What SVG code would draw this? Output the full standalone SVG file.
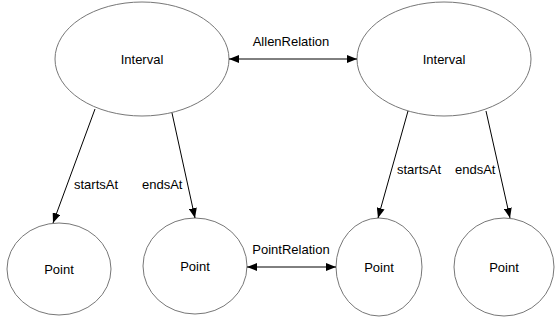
<svg xmlns="http://www.w3.org/2000/svg" width="555" height="325" viewBox="0 0 555 325">
<defs>
<marker id="ah" viewBox="0 0 10 8" refX="10" refY="4" markerWidth="10" markerHeight="8" markerUnits="userSpaceOnUse" orient="auto-start-reverse">
<path d="M0,0 L10,4 L0,8 z" fill="#000"/>
</marker>
<style>
.n{fill:#fff;stroke:#777;stroke-width:1}
.t{font-family:"Liberation Sans",Arial,sans-serif;font-size:13px;fill:#000}
.c{text-anchor:middle}
.e{stroke:#000;stroke-width:1;fill:none}
</style>
</defs>
<rect width="555" height="325" fill="#fff"/>
<g id="interval1"><ellipse class="n" cx="142" cy="59" rx="87" ry="57"/><text class="t c" x="142" y="64">Interval</text></g>
<g id="interval2"><ellipse class="n" cx="444" cy="59" rx="87" ry="57"/><text class="t c" x="444" y="64">Interval</text></g>
<g id="point1"><ellipse class="n" cx="59" cy="269" rx="52" ry="46"/><text class="t c" x="59" y="274">Point</text></g>
<g id="point2"><ellipse class="n" cx="195" cy="266" rx="52" ry="48"/><text class="t c" x="195" y="271">Point</text></g>
<g id="point3"><ellipse class="n" cx="379" cy="267" rx="43" ry="49"/><text class="t c" x="379" y="272">Point</text></g>
<g id="point4"><ellipse class="n" cx="504" cy="267" rx="50" ry="49"/><text class="t c" x="504" y="272">Point</text></g>
<g id="connectors">
<line class="e" x1="229" y1="59" x2="357" y2="59" marker-start="url(#ah)" marker-end="url(#ah)"/>
<text class="t c" x="291" y="46">AllenRelation</text>
<line class="e" x1="247" y1="267" x2="336" y2="267" marker-start="url(#ah)" marker-end="url(#ah)"/>
<text class="t c" x="291" y="254">PointRelation</text>
<line class="e" x1="95" y1="109" x2="53" y2="223" marker-end="url(#ah)"/>
<text class="t" x="74" y="189">startsAt</text>
<line class="e" x1="172" y1="113" x2="195" y2="218" marker-end="url(#ah)"/>
<text class="t" x="142" y="189">endsAt</text>
<line class="e" x1="408" y1="111" x2="378" y2="218" marker-end="url(#ah)"/>
<text class="t" x="397" y="174">startsAt</text>
<line class="e" x1="486" y1="111" x2="510" y2="218" marker-end="url(#ah)"/>
<text class="t" x="455" y="174">endsAt</text>
</g>
</svg>
